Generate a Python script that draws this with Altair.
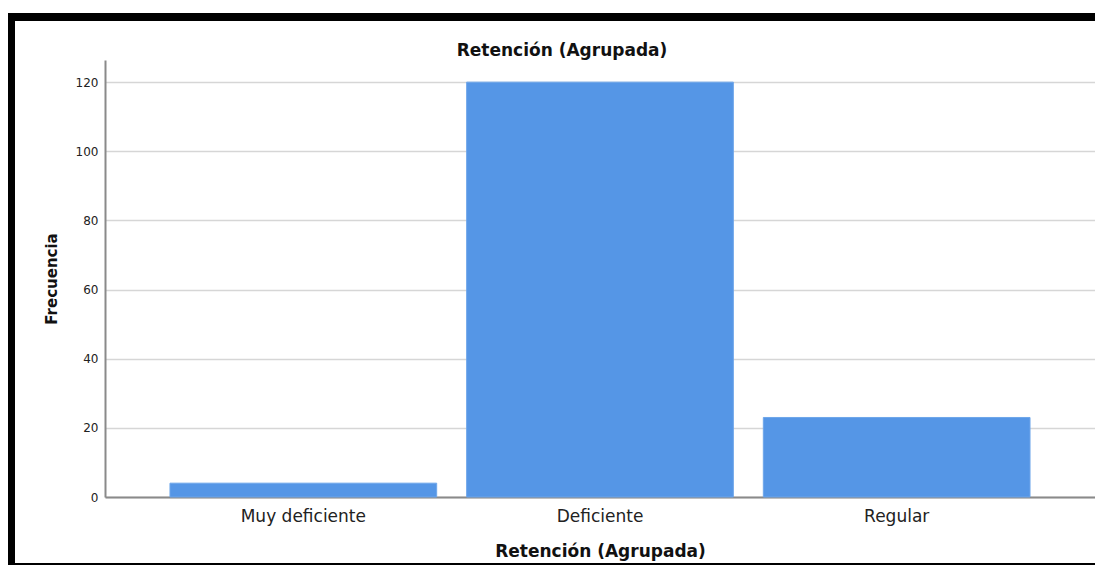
import altair as alt
import pandas as pd

categories = ["Muy deficiente", "Deficiente", "Regular"]
frequencies = [4, 120, 23]
y_ticks = [0, 20, 40, 60, 80, 100, 120]

df = pd.DataFrame({"cat": categories, "freq": frequencies})

W, H = 990, 437
FONT = "DejaVu Sans"

bars = alt.Chart(df).mark_bar(color="#5596e6", stroke="#6ea6ea", strokeWidth=1).encode(
    x=alt.X(
        "cat:N",
        sort=categories,
        scale=alt.Scale(paddingInner=0.101, paddingOuter=0.219),
        axis=alt.Axis(
            title="Retención (Agrupada)",
            titleFont=FONT, titleFontSize=17, titleFontWeight="bold", titleColor="#111",
            titleX=W / 2, titleY=59, titleBaseline="alphabetic", titleAlign="center",
            labelFont=FONT, labelFontSize=17, labelColor="#222", labelAngle=0,
            labelBaseline="alphabetic", labelPadding=24,
            ticks=False, tickSize=0,
            domainColor="#8a8a8a", domainWidth=2, grid=False,
        ),
    ),
    y=alt.Y(
        "freq:Q",
        scale=alt.Scale(domain=[0, 126.4], nice=False),
        axis=alt.Axis(
            title="Frecuencia",
            titleFont=FONT, titleFontSize=15, titleFontWeight="bold", titleColor="#111",
            titleX=-49, titleY=H / 2, titleAngle=-90, titleAlign="center", titleBaseline="alphabetic",
            values=y_ticks,
            labelFont=FONT, labelFontSize=12, labelColor="#222", labelPadding=7,
            ticks=False, tickSize=0,
            domainColor="#8a8a8a", domainWidth=2,
            grid=True, gridColor="#d6d6d6", gridWidth=1.5,
        ),
    ),
)

frame_top = alt.Chart(df).mark_rule(color="black", strokeWidth=8).encode(
    x=alt.value(-99), x2=alt.value(W), y=alt.value(-43)
)
frame_left = alt.Chart(df).mark_rule(color="black", strokeWidth=8).encode(
    x=alt.value(-94), y=alt.value(-47), y2=alt.value(H + 68)
)
frame_bottom = alt.Chart(df).mark_rule(color="black", strokeWidth=2).encode(
    x=alt.value(-99), x2=alt.value(W), y=alt.value(H + 67)
)

chart = alt.layer(bars, frame_top, frame_left, frame_bottom).properties(
    width=W,
    height=H,
    background="white",
    title=alt.TitleParams(
        text="Retención (Agrupada)",
        font=FONT, fontSize=17, fontWeight="bold", color="#111",
        anchor="middle", dx=-38, offset=0, dy=64, baseline="alphabetic",
    ),
    autosize=alt.AutoSizeParams(type="none"),
    padding={"left": 97, "top": 52, "right": 0, "bottom": 68},
).configure_view(stroke=None)

chart.save("out.html", embed_options={"renderer": "svg", "actions": False})
